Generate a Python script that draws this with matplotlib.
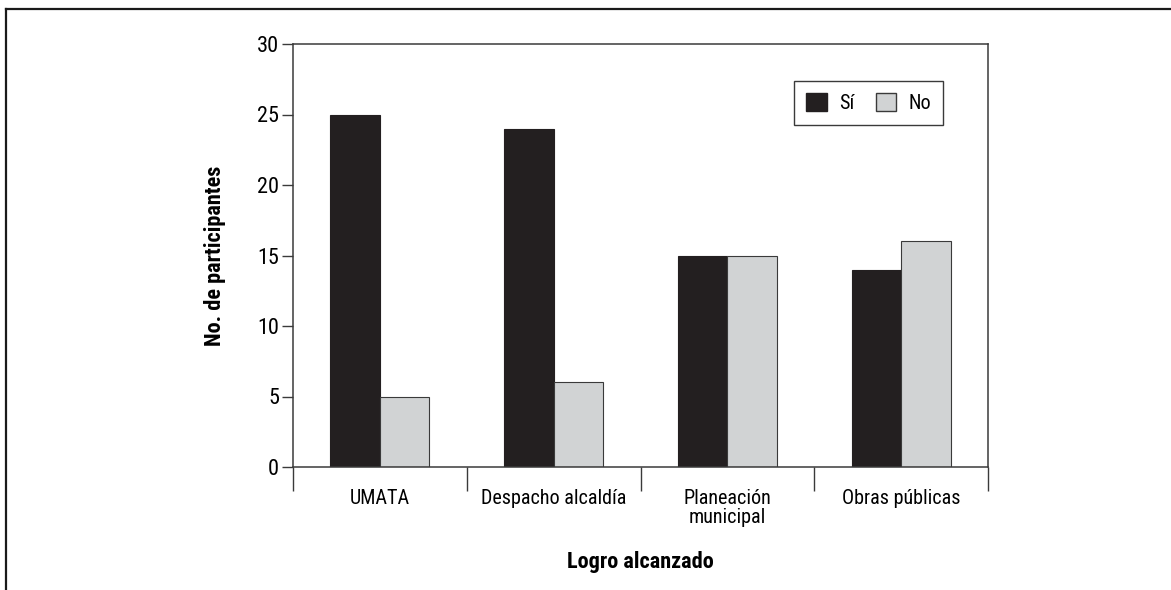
import matplotlib
matplotlib.use("Agg")
import matplotlib.pyplot as plt
from matplotlib.lines import Line2D
from matplotlib.patches import Patch
from matplotlib import font_manager
import numpy as np

# ── datos ─────────────────────────────────────────────────────────────────────
categorias = ["UMATA", "Despacho alcaldía", "Planeación\nmunicipal", "Obras públicas"]
si_vals = [25, 24, 15, 14]
no_vals = [5, 6, 15, 16]
series = ["Sí", "No"]

COL_SI = "#231f20"
COL_NO = "#d1d3d4"
EDGE = "#3a3a3a"

# fuente angosta si existe
nombres = {f.name for f in font_manager.fontManager.ttflist}
narrow = [n for n in ["Liberation Sans Narrow", "Roboto Condensed", "Open Sans Condensed"] if n in nombres]
plt.rcParams["font.family"] = narrow + ["DejaVu Sans"]
plt.rcParams["font.stretch"] = "condensed"

fig = plt.figure(figsize=(11.71, 5.90), dpi=100)
ax = fig.add_axes([293 / 1171, 1 - 467 / 590, 695 / 1171, 423 / 590])

x = np.arange(len(categorias))
w = 0.285
ax.bar(x - w / 2, si_vals, w, color=COL_SI, edgecolor=COL_SI, linewidth=0.8)
ax.bar(x + w / 2, no_vals, w, color=COL_NO, edgecolor=EDGE, linewidth=0.8)

ax.set_xlim(-0.5, len(categorias) - 0.5)
ax.set_ylim(0, 30)
ax.set_yticks(range(0, 31, 5))
ax.tick_params(axis="y", direction="out", length=8, width=1.0, color=EDGE,
               labelsize=16, pad=2)

# ticks mayores en los límites, etiquetas en los centros
ax.set_xticks(np.arange(-0.5, len(categorias), 1.0))
ax.set_xticklabels([])
ax.set_xticks(x, minor=True)
ax.set_xticklabels(categorias, minor=True, fontsize=14.5, linespacing=1.0)
ax.tick_params(axis="x", which="major", direction="out", length=17, width=1.0, color=EDGE)
ax.tick_params(axis="x", which="minor", length=0, pad=16)

for s in ax.spines.values():
    s.set_color(EDGE)
    s.set_linewidth(1.1)

ax.set_ylabel("No. de participantes", fontsize=16, fontweight="bold", labelpad=22)
ax.set_xlabel("Logro alcanzado", fontsize=16, fontweight="bold", labelpad=17)

handles = [Patch(facecolor=COL_SI, edgecolor=COL_SI),
           Patch(facecolor=COL_NO, edgecolor=EDGE)]
leg = ax.legend(handles, series, ncol=2, loc="upper right",
                bbox_to_anchor=((943 - 293) / 695, (467 - 81) / 423),
                fontsize=14.5, fancybox=False, framealpha=1, edgecolor=EDGE,
                handlelength=1.0, handleheight=1.0, handletextpad=0.6,
                columnspacing=1.1, borderpad=0.6, borderaxespad=0)
leg.get_frame().set_linewidth(1.0)

# marco exterior (arriba e izquierda)
fig.add_artist(Line2D([6 / 1171, 1], [1 - 9 / 590, 1 - 9 / 590],
                      transform=fig.transFigure, color="#1a1a1a", linewidth=1.6))
fig.add_artist(Line2D([6 / 1171, 6 / 1171], [0, 1 - 9 / 590],
                      transform=fig.transFigure, color="#1a1a1a", linewidth=1.6))

fig.savefig("out.png", dpi=100)
